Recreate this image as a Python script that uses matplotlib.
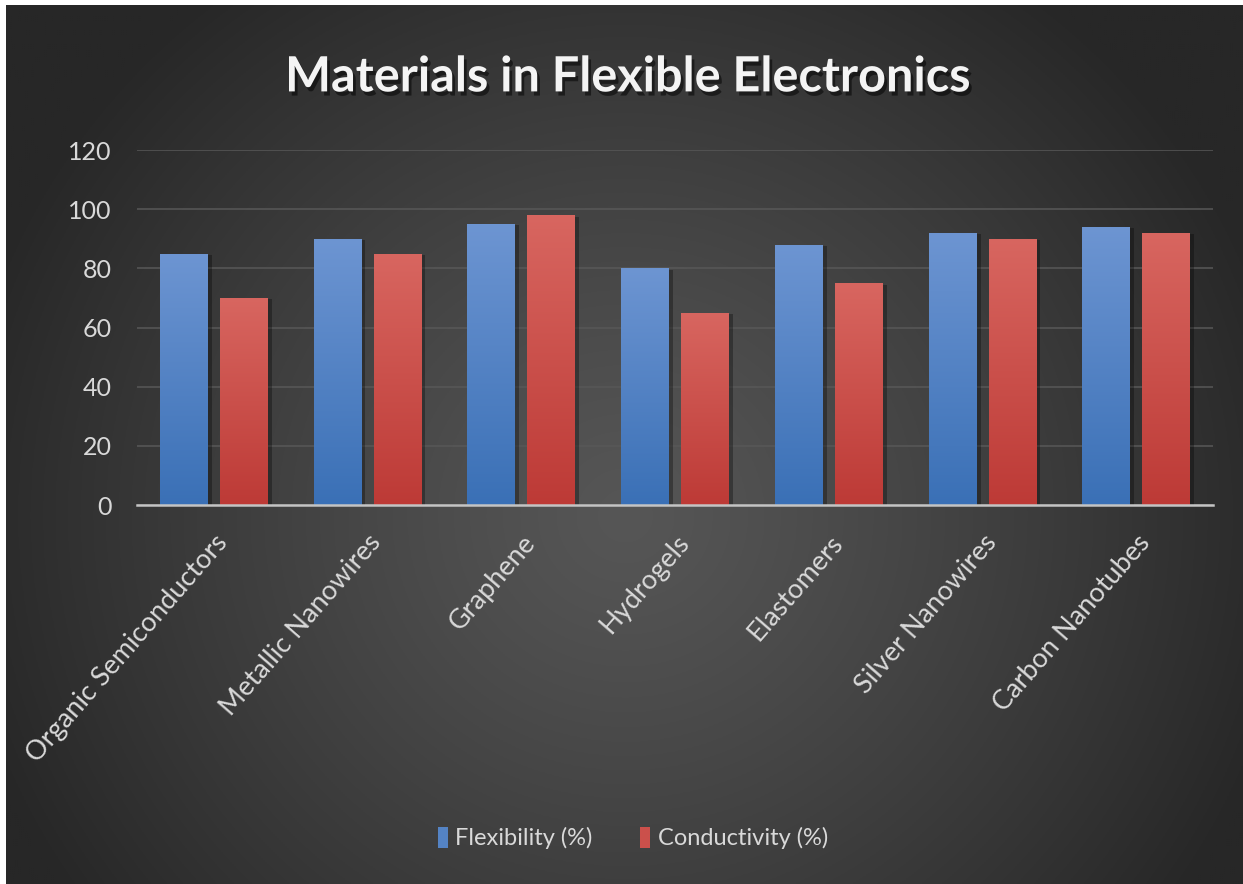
import matplotlib
matplotlib.use("Agg")
import matplotlib.pyplot as plt
import matplotlib.patheffects as pe
from matplotlib.patches import Patch
import numpy as np

plt.rcParams['font.family'] = ['Lato', 'DejaVu Sans']

# data
materials = ['Organic Semiconductors', 'Metallic Nanowires', 'Graphene', 'Hydrogels',
             'Elastomers', 'Silver Nanowires', 'Carbon Nanotubes']
flexibility = [85, 90, 95, 80, 88, 92, 94]
conductivity = [70, 85, 98, 65, 75, 90, 92]
series_names = ['Flexibility (%)', 'Conductivity (%)']

txt = '#d9d9d9'
blue_top, blue_bot = np.array([0x6d, 0x95, 0xd2]) / 255, np.array([0x3a, 0x70, 0xb6]) / 255
red_top, red_bot = np.array([0xd8, 0x66, 0x60]) / 255, np.array([0xbd, 0x3a, 0x36]) / 255

fig = plt.figure(figsize=(12.43, 8.84), dpi=100, facecolor='white')

# radial gradient background
bg = fig.add_axes([0.005, 0, 0.995, 0.994], zorder=-5)
H, W = 440, 620
yy, xx = np.mgrid[0:H, 0:W]
r = np.sqrt(((xx - W * 0.5) / (W * 0.55)) ** 2 + ((yy - H * 0.58) / (H * 0.75)) ** 2)
r = np.clip(r, 0, 1)
shade = (0x56 - (0x56 - 0x27) * r ** 1.2) / 255
bg.imshow(np.dstack([shade] * 3), aspect='auto', extent=[0, 1, 0, 1], origin='upper')
bg.set_axis_off()

ax = fig.add_axes([0.110, 0.4287, 0.866, 0.4015])
ax.set_facecolor('none')

x = np.arange(len(materials))
w = 0.31
off = 0.195


def grad_bars(xpos, vals, top, bot):
    bars = ax.bar(xpos, vals, w, color=bot, zorder=3,
                  path_effects=[pe.SimplePatchShadow(offset=(3, -1), shadow_rgbFace='black', alpha=0.3),
                                pe.Normal()])
    g = np.linspace(0, 1, 256)[:, None, None]
    img = top * (1 - g) + bot * g
    for b in bars:
        bx, by = b.get_x(), b.get_y()
        im = ax.imshow(img, extent=[bx, bx + b.get_width(), by, by + b.get_height()],
                       aspect='auto', zorder=4, origin='upper')
        im.set_clip_path(b)
    return bars


grad_bars(x - off, flexibility, blue_top, blue_bot)
grad_bars(x + off, conductivity, red_top, red_bot)

ax.set_xlim(-0.5, len(materials) - 0.5)
ax.set_ylim(0, 120)
ax.set_yticks(range(0, 121, 20))
ax.yaxis.grid(True, color='#585858', linewidth=1.1, zorder=0)
ax.set_axisbelow(True)
for s in ['top', 'right', 'left']:
    ax.spines[s].set_visible(False)
ax.spines['bottom'].set_color('#c4c4c4')
ax.spines['bottom'].set_linewidth(1.8)
ax.spines['bottom'].set_zorder(6)
ax.tick_params(length=0, colors=txt, labelsize=18)
ax.tick_params(axis='y', pad=18)
ax.set_xticks(x)
ax.set_xticklabels(materials, rotation=49, ha='right', rotation_mode='anchor', fontsize=19.5, color=txt)
ax.tick_params(axis='x', pad=18)

fig.text(0.505, 0.913, 'Materials in Flexible Electronics', ha='center', va='center',
         fontsize=35, fontweight='bold', color='#f4f4f4',
         path_effects=[pe.SimplePatchShadow(offset=(2, -3), shadow_rgbFace='black', alpha=0.5),
                       pe.Normal()])

handles = [Patch(facecolor=blue_top * 0.5 + blue_bot * 0.5), Patch(facecolor=red_top * 0.5 + red_bot * 0.5)]
fig.legend(handles, series_names, loc='center', bbox_to_anchor=(0.509, 0.052), ncol=2, frameon=False,
           fontsize=17, labelcolor=txt, handlelength=0.45, handleheight=1.0, handletextpad=0.3,
           columnspacing=2.0)

fig.savefig('out.png', dpi=100, facecolor=fig.get_facecolor())
